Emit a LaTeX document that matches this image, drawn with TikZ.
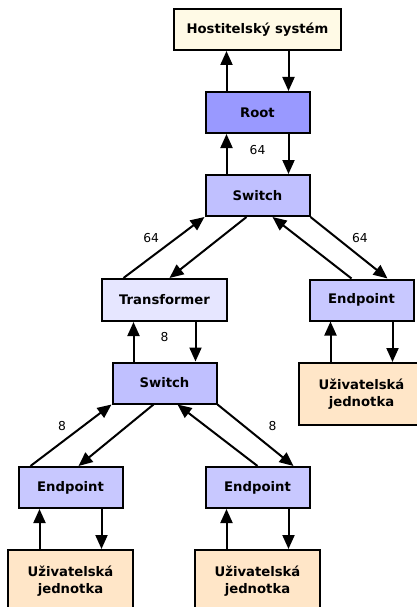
\documentclass[tikz,border=0pt]{standalone}
\usepackage{fontspec}
\setmainfont{DejaVu Sans}
\usetikzlibrary{positioning,arrows.meta}
\definecolor{hostfill}{HTML}{FFFAE6}
\definecolor{rootfill}{HTML}{9999FF}
\definecolor{swfill}{HTML}{C0C0FF}
\definecolor{epfill}{HTML}{C8C8FF}
\definecolor{trfill}{HTML}{E6E6FF}
\definecolor{userfill}{HTML}{FFE6C8}

\begin{document}
\begin{tikzpicture}[x=1pt, y=1pt, node distance=83pt, on grid, line width=2pt,
    >={Triangle[length=14pt,width=12pt]},
    box/.style={draw, line width=2pt, minimum width=104pt, minimum height=41pt,
        inner sep=0pt, align=center, font=\fontsize{13.2}{17}\selectfont\bfseries},
    lbl/.style={font=\fontsize{12.3}{14}\selectfont, inner sep=4pt}]

    \useasboundingbox (0,0) rectangle (417,-607);

    \node[box, fill=hostfill, minimum width=167pt] (host) at (257.5,-29.5) {Hostitelský systém};
    \node[box, fill=rootfill] (root) [below=of host] {Root};
    \node[box, fill=swfill] (sw1) [below=of root] {Switch};
    \node[box, fill=trfill, minimum width=125pt, minimum height=42pt] (trans) [below left=104.5pt and 93pt of sw1] {Transformer};
    \node[box, fill=epfill] (ep1) [below right=104.5pt and 104pt of sw1] {Endpoint};
    \node[box, fill=userfill, minimum width=125pt, minimum height=62pt] (user1) [below=94pt of ep1] {Uživatelská\\jednotka};
    \node[box, fill=swfill] (sw2) [below=of trans] {Switch};
    \node[box, fill=epfill] (ep2) [below left=104.5pt and 94pt of sw2] {Endpoint};
    \node[box, fill=epfill] (ep3) [below right=104.5pt and 93pt of sw2] {Endpoint};
    \node[box, fill=userfill, minimum width=125pt, minimum height=62pt] (user2) [below=93.5pt of ep2] {Uživatelská\\jednotka};
    \node[box, fill=userfill, minimum width=125pt, minimum height=62pt] (user3) [below=93.5pt of ep3] {Uživatelská\\jednotka};

    % host <-> root
    \draw[->] ([xshift=-31pt]root.north) -- ([xshift=-31pt]host.south);
    \draw[->] ([xshift=31pt]host.south) -- ([xshift=31pt]root.north);

    % root <-> switch
    \draw[->] ([xshift=-31pt]sw1.north) -- ([xshift=-31pt]root.south);
    \draw[->] ([xshift=31pt]root.south) -- ([xshift=31pt]sw1.north);
    \node[lbl] (n1) [below=37.5pt of root] {64};

    % switch <-> transformer, endpoint
    \draw[->] ([xshift=-41pt]trans.north) -- node[lbl, above left] {64} (sw1.south west);
    \draw[->] ([xshift=-11pt]sw1.south) -- ([xshift=5pt]trans.north);
    \draw[->] ([xshift=-10pt]ep1.north) -- ([xshift=15pt]sw1.south);
    \draw[->] (sw1.south east) -- node[lbl, above right, xshift=-2pt] {64} ([xshift=26pt]ep1.north);

    % transformer <-> switch
    \draw[->] ([xshift=-31pt]sw2.north) -- ([xshift=-31pt]trans.south);
    \draw[->] ([xshift=31pt]trans.south) -- ([xshift=31pt]sw2.north);
    \node[lbl] (n2) [below=37pt of trans] {8};

    % endpoint <-> unit
    \draw[->] ([xshift=-31pt]user1.north) -- ([xshift=-31pt]ep1.south);
    \draw[->] ([xshift=31pt]ep1.south) -- ([xshift=31pt]user1.north);

    % switch <-> endpoints
    \draw[->] ([xshift=-40pt]ep2.north) -- node[lbl, above left] {8} (sw2.south west);
    \draw[->] ([xshift=-11pt]sw2.south) -- ([xshift=8pt]ep2.north);
    \draw[->] (ep3.north) -- ([xshift=13pt]sw2.south);
    \draw[->] (sw2.south east) -- node[lbl, above right, xshift=8pt] {8} ([xshift=36pt]ep3.north);

    % endpoints <-> units
    \draw[->] ([xshift=-31pt]user2.north) -- ([xshift=-31pt]ep2.south);
    \draw[->] ([xshift=31pt]ep2.south) -- ([xshift=31pt]user2.north);
    \draw[->] ([xshift=-31pt]user3.north) -- ([xshift=-31pt]ep3.south);
    \draw[->] ([xshift=31pt]ep3.south) -- ([xshift=31pt]user3.north);

\end{tikzpicture}
\end{document}
